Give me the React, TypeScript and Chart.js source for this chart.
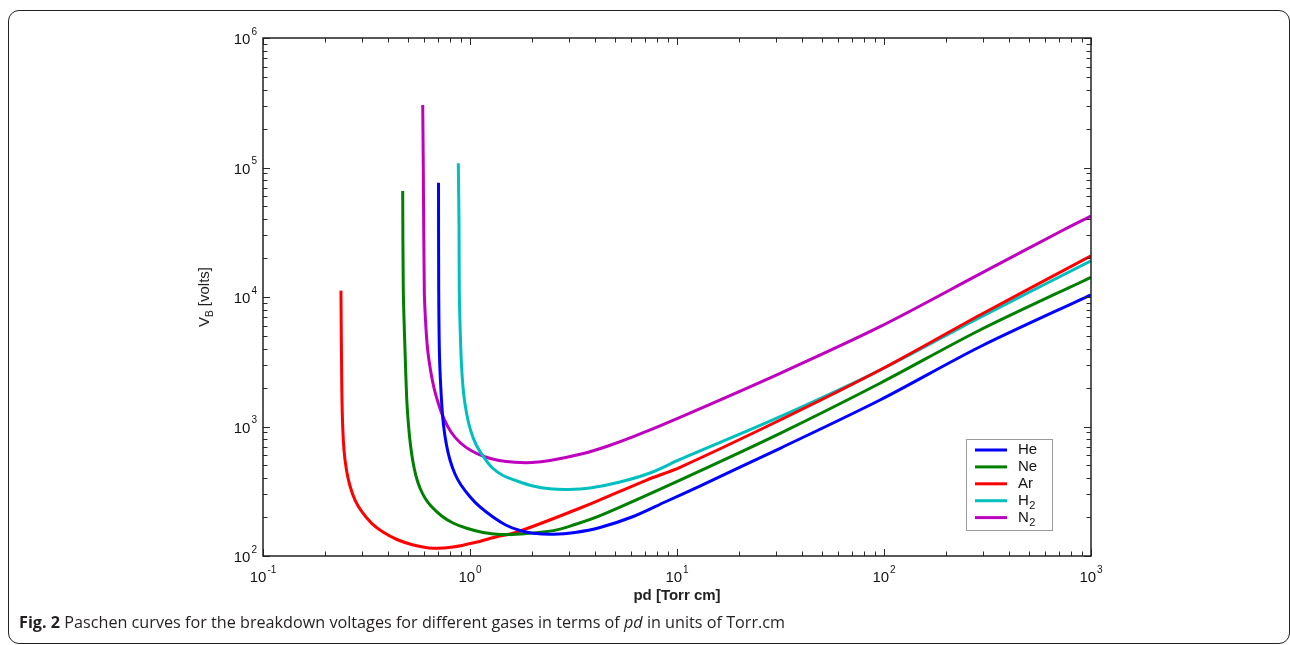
import React, { useEffect, useRef } from 'react';
import { Chart, registerables } from 'chart.js';

Chart.register(...registerables);

// ---- data ----
const heX = [0.7045, 0.7061, 0.7124, 0.7283, 0.7447, 0.7699, 0.8005, 0.8463, 0.9048, 1.0, 1.1177, 1.2915, 1.5043, 1.7441, 2.0223, 2.5263, 3.2155, 4.2466, 6.15, 8.752, 12.9, 31.5, 95.7, 291, 1000];
const heY = [76400, 11330, 3460, 1602, 1027, 719.7, 551.3, 429.8, 353.5, 287.1, 239.0, 200.1, 172.0, 157.4, 149.7, 147.1, 151.9, 166.0, 201.8, 261.2, 347, 679, 1602, 4130, 10400];

const neX = [0.473, 0.4762, 0.4853, 0.4951, 0.5045, 0.5158, 0.5304, 0.5483, 0.5733, 0.6061, 0.6478, 0.7299, 0.8276, 0.964, 1.1555, 1.3961, 1.7441, 2.53, 3.2155, 4.25, 10.34, 31.5, 95.7, 291, 1000];
const neY = [65850, 11327, 3896, 1602, 1027, 719.7, 531.9, 414.8, 335.0, 280.5, 243.3, 203.6, 179.8, 163.7, 151.9, 146.6, 147.9, 157, 175.1, 205, 386, 886, 2158, 5560, 14200];

const arX = [0.238, 0.24, 0.2421, 0.2462, 0.2531, 0.2632, 0.2783, 0.3008, 0.3351, 0.3799, 0.4439, 0.5322, 0.6648, 0.8276, 1.0572, 1.3458, 1.6681, 3.53, 7.14, 10.34, 31.5, 95.7, 291, 1000];
const arY = [11200, 2286, 1122, 658.2, 461.4, 347.2, 270.6, 218.7, 178.8, 153.2, 134.1, 121.6, 114.7, 117.3, 127.1, 140.9, 151.9, 240, 386, 484, 1122, 2729, 7260, 20760];

const h2X = [0.878, 0.885, 0.8877, 0.8968, 0.9098, 0.9302, 0.9618, 1.0056, 1.069, 1.1555, 1.2772, 1.4437, 1.6866, 2.0155, 2.435, 2.975, 3.7991, 5.3045, 7.4067, 10.339, 31.5, 95.7, 291, 1000];
const h2Y = [107700, 37000, 11327, 5561, 2985, 1847, 1271, 939.7, 726.1, 591.9, 482.4, 418.5, 379.5, 347.2, 330.3, 326.2, 335.0, 372.8, 437.4, 556.2, 1191, 2729, 6970, 19000];

const n2X = [0.591, 0.5948, 0.6014, 0.6095, 0.6232, 0.6444, 0.67, 0.7045, 0.7488, 0.8095, 0.8947, 1.0112, 1.1684, 1.3807, 1.6501, 1.9932, 2.435, 3.527, 4.6416, 6.15, 10.34, 31.5, 95.7, 291, 735, 1000];
const n2Y = [304000, 100000, 11327, 6643, 4037, 2731, 1983, 1492, 1143, 907, 752.3, 652.4, 586.7, 546.4, 529.1, 527.2, 546.4, 618.8, 707.1, 834, 1178, 2576, 5900, 15070, 32900, 42200];

const seriesNames = ['He', 'Ne', 'Ar', 'H2', 'N2'];
const legendMain = ['He', 'Ne', 'Ar', 'H', 'N'];
const legendSub = ['', '', '', '2', '2'];
const seriesColors = ['#0000ff', '#008000', '#ff0000', '#00bfbf', '#bf00bf'];

const xTickExps = [-1, 0, 1, 2, 3];
const yTickExps = [2, 3, 4, 5, 6];
const xTitle = 'pd [Torr cm]';
const yTitleMain = 'V';
const yTitleSub = 'B';
const yTitleRest = ' [volts]';

const FONT = '"Liberation Sans", Arial, Helvetica, sans-serif';

function toPoints(xs: number[], ys: number[]) {
  return xs.map((x, i) => ({ x, y: ys[i] }));
}

function drawPow(ctx: CanvasRenderingContext2D, exp: string, ax: number, ay: number, align: 'center' | 'right') {
  ctx.font = `15px ${FONT}`;
  const w1 = ctx.measureText('10').width;
  ctx.font = `10px ${FONT}`;
  const w2 = ctx.measureText(exp).width;
  const total = w1 + 1 + w2;
  const start = align === 'center' ? ax - total / 2 : ax - total;
  ctx.textAlign = 'left';
  ctx.textBaseline = 'middle';
  ctx.font = `15px ${FONT}`;
  ctx.fillText('10', start, ay);
  ctx.font = `10px ${FONT}`;
  ctx.fillText(exp, start + w1 + 1, ay - 8);
}

const axesPlugin = {
  id: 'matlabAxes',
  afterDatasetsDraw(chart: any) {
    const { ctx, chartArea, scales } = chart;
    const { left, right, top, bottom } = chartArea;
    const xs = scales.x;
    const ys = scales.y;
    ctx.save();
    ctx.strokeStyle = '#2a2a2a';
    ctx.lineWidth = 1;
    for (let d = xTickExps[0]; d <= xTickExps[xTickExps.length - 1]; d++) {
      for (let m = 1; m <= 9; m++) {
        if (d === xTickExps[xTickExps.length - 1] && m > 1) break;
        const v = m * Math.pow(10, d);
        const px = Math.round(xs.getPixelForValue(v)) + 0.5;
        const len = m === 1 ? 7 : 4.5;
        ctx.beginPath();
        ctx.moveTo(px, bottom);
        ctx.lineTo(px, bottom - len);
        ctx.moveTo(px, top);
        ctx.lineTo(px, top + len);
        ctx.stroke();
      }
    }
    for (let d = yTickExps[0]; d <= yTickExps[yTickExps.length - 1]; d++) {
      for (let m = 1; m <= 9; m++) {
        if (d === yTickExps[yTickExps.length - 1] && m > 1) break;
        const v = m * Math.pow(10, d);
        const py = Math.round(ys.getPixelForValue(v)) + 0.5;
        const len = m === 1 ? 7 : 4.5;
        ctx.beginPath();
        ctx.moveTo(left, py);
        ctx.lineTo(left + len, py);
        ctx.moveTo(right, py);
        ctx.lineTo(right - len, py);
        ctx.stroke();
      }
    }
    ctx.lineWidth = 1.5;
    ctx.strokeStyle = '#222';
    ctx.strokeRect(left, top, right - left, bottom - top);

    ctx.fillStyle = '#111';
    xTickExps.forEach((e) => {
      const px = xs.getPixelForValue(Math.pow(10, e));
      drawPow(ctx, String(e), px, bottom + 22, 'center');
    });
    yTickExps.forEach((e) => {
      const py = ys.getPixelForValue(Math.pow(10, e));
      drawPow(ctx, String(e), left - 6, py + 2, 'right');
    });

    ctx.font = `bold 15px ${FONT}`;
    ctx.textAlign = 'center';
    ctx.textBaseline = 'middle';
    ctx.fillStyle = '#222';
    ctx.fillText(xTitle, (left + right) / 2, bottom + 40);

    ctx.save();
    ctx.translate(left - 58, (top + bottom) / 2);
    ctx.rotate(-Math.PI / 2);
    ctx.font = `15px ${FONT}`;
    const wV = ctx.measureText(yTitleMain).width;
    const wR = ctx.measureText(yTitleRest).width;
    ctx.font = `10px ${FONT}`;
    const wB = ctx.measureText(yTitleSub).width;
    const tot = wV + wB + wR;
    let sx = -tot / 2;
    ctx.textAlign = 'left';
    ctx.textBaseline = 'middle';
    ctx.font = `15px ${FONT}`;
    ctx.fillText(yTitleMain, sx, 0);
    sx += wV;
    ctx.font = `10px ${FONT}`;
    ctx.fillText(yTitleSub, sx, 5);
    sx += wB;
    ctx.font = `15px ${FONT}`;
    ctx.fillText(yTitleRest, sx, 0);
    ctx.restore();

    const lx = right - 125;
    const ly = bottom - 117;
    const lw = 86;
    const lh = 91;
    ctx.fillStyle = '#fff';
    ctx.fillRect(lx, ly, lw, lh);
    ctx.strokeStyle = '#9a9a9a';
    ctx.lineWidth = 1;
    ctx.strokeRect(Math.round(lx) + 0.5, Math.round(ly) + 0.5, lw, lh);
    chart.data.datasets.forEach((ds: any, i: number) => {
      const ry = ly + 11 + i * 16.9;
      ctx.strokeStyle = ds.borderColor;
      ctx.lineWidth = 3;
      ctx.beginPath();
      ctx.moveTo(lx + 9, ry);
      ctx.lineTo(lx + 41, ry);
      ctx.stroke();
      ctx.fillStyle = '#111';
      ctx.font = `15px ${FONT}`;
      ctx.textAlign = 'left';
      ctx.textBaseline = 'middle';
      ctx.fillText(legendMain[i], lx + 52, ry);
      if (legendSub[i]) {
        const w = ctx.measureText(legendMain[i]).width;
        ctx.font = `11px ${FONT}`;
        ctx.fillText(legendSub[i], lx + 52 + w + 0.5, ry + 5);
      }
    });
    ctx.restore();
  },
};

export default function App() {
  const canvasRef = useRef<HTMLCanvasElement | null>(null);

  useEffect(() => {
    if (!canvasRef.current) return;
    const allX = [heX, neX, arX, h2X, n2X];
    const allY = [heY, neY, arY, h2Y, n2Y];
    const chart = new Chart(canvasRef.current, {
      type: 'scatter',
      data: {
        datasets: seriesNames.map((name, i) => ({
          label: name,
          data: toPoints(allX[i], allY[i]),
          showLine: true,
          borderColor: seriesColors[i],
          backgroundColor: seriesColors[i],
          borderWidth: 3,
          pointRadius: 0,
          tension: 0.3,
          fill: false,
        })),
      },
      options: {
        animation: false,
        responsive: false,
        devicePixelRatio: 1,
        layout: { padding: { left: 263, top: 38, right: 199, bottom: 89 } },
        plugins: { legend: { display: false }, tooltip: { enabled: false } },
        scales: {
          x: { type: 'logarithmic', min: 0.1, max: 1000, display: false },
          y: { type: 'logarithmic', min: 100, max: 1000000, display: false },
        },
      },
      plugins: [axesPlugin],
    });
    return () => chart.destroy();
  }, []);

  return (
    <div style={{ position: 'fixed', left: 0, top: 0, width: 1290, height: 645, background: '#fff', overflow: 'hidden' }}>
      <div
        style={{
          position: 'absolute',
          left: 8,
          top: 10,
          width: 1282,
          height: 634,
          boxSizing: 'border-box',
          border: '1.5px solid #222',
          borderRadius: 11,
        }}
      />
      <canvas ref={canvasRef} width={1290} height={645} style={{ position: 'absolute', left: 0, top: 0, display: 'block' }} />
      <div
        style={{
          position: 'absolute',
          left: 19,
          top: 612,
          fontFamily: '"Open Sans", "Noto Sans", sans-serif',
          fontSize: 16.2,
          lineHeight: '20px',
          color: '#231f20',
          whiteSpace: 'nowrap',
        }}
      >
        <b>Fig. 2</b> Paschen curves for the breakdown voltages for different gases in terms of <i>pd</i> in units of Torr.cm
      </div>
    </div>
  );
}
